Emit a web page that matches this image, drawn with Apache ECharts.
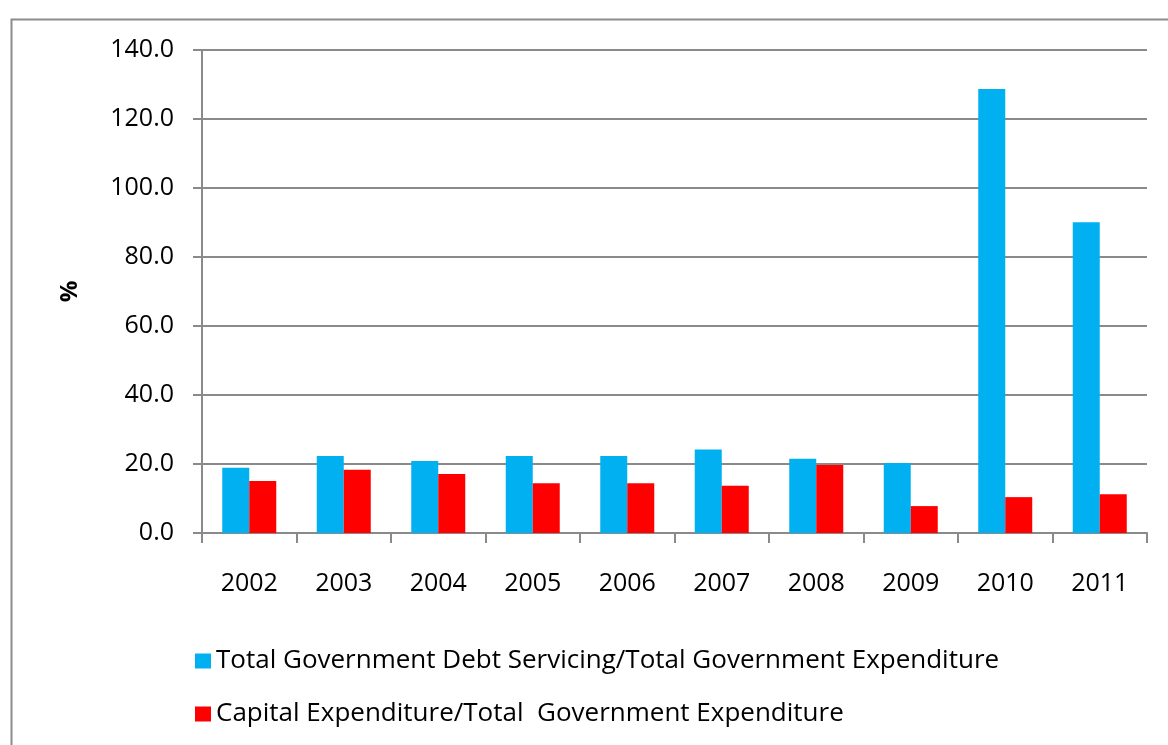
<!DOCTYPE html>
<html>
<head>
<meta charset="utf-8">
<script src="https://cdn.jsdelivr.net/npm/echarts@6/dist/echarts.min.js"></script>
<style>
  html, body { margin: 0; padding: 0; background: #fff; }
  #chart { width: 1168px; height: 745px; }
</style>
</head>
<body>
<div id="chart"></div>
<script>
// Years on the category axis
const years = ['2002', '2003', '2004', '2005', '2006', '2007', '2008', '2009', '2010', '2011'];

// Ratios in percent
const debtServicingShare = [18.9, 22.3, 20.9, 22.3, 22.3, 24.2, 21.5, 20.3, 128.7, 90.1];
const capitalExpenditureShare = [15.1, 18.3, 17.1, 14.4, 14.4, 13.7, 19.7, 7.8, 10.4, 11.2];

// Series names
const seriesNames = [
  'Total Government Debt Servicing/Total Government Expenditure',
  'Capital Expenditure/Total  Government Expenditure'
];

const FONT = '"Open Sans", "Liberation Sans", Arial, sans-serif';
const GRID_GRAY = '#8a8a8a';

const chart = echarts.init(document.getElementById('chart'));
chart.setOption({
  backgroundColor: '#ffffff',
  animation: false,
  graphic: [{
    type: 'rect',
    left: 9, top: 17,
    shape: { width: 1200, height: 800 },
    style: { fill: 'none', stroke: '#8c8c8c', lineWidth: 2 },
    silent: true
  }],
  grid: { left: 202, top: 50, right: 21, bottom: 212, containLabel: false },
  legend: {
    orient: 'vertical',
    left: 190,
    top: 641,
    itemWidth: 16,
    itemHeight: 15,
    itemGap: 23,
    icon: 'rect',
    textStyle: { fontFamily: FONT, fontSize: 26, color: '#000', lineHeight: 30 },
    data: seriesNames
  },
  xAxis: {
    type: 'category',
    data: years,
    axisLine: { lineStyle: { color: GRID_GRAY, width: 2 } },
    axisTick: { show: true, length: 10, lineStyle: { color: GRID_GRAY, width: 2 } },
    axisLabel: { fontFamily: FONT, fontSize: 25, color: '#000', margin: 38 }
  },
  yAxis: {
    type: 'value',
    min: 0, max: 140, interval: 20,
    name: '%',
    nameLocation: 'middle',
    nameRotate: 90,
    nameGap: 120,
    nameTextStyle: { fontFamily: FONT, fontSize: 24, fontWeight: 'bold', color: '#000' },
    axisLine: { show: true, lineStyle: { color: GRID_GRAY, width: 2 } },
    axisTick: { show: true, length: 9, lineStyle: { color: GRID_GRAY, width: 2 } },
    axisLabel: {
      fontFamily: FONT, fontSize: 25, color: '#000', margin: 28,
      formatter: v => v.toFixed(1)
    },
    splitLine: { lineStyle: { color: GRID_GRAY, width: 2 } }
  },
  series: [
    {
      name: seriesNames[0],
      type: 'bar',
      data: debtServicingShare,
      barWidth: 27,
      barGap: '0%',
      itemStyle: { color: '#00B0F0' }
    },
    {
      name: seriesNames[1],
      type: 'bar',
      data: capitalExpenditureShare,
      barWidth: 27,
      barGap: '0%',
      itemStyle: { color: '#FF0000' }
    }
  ]
});
</script>
</body>
</html>
